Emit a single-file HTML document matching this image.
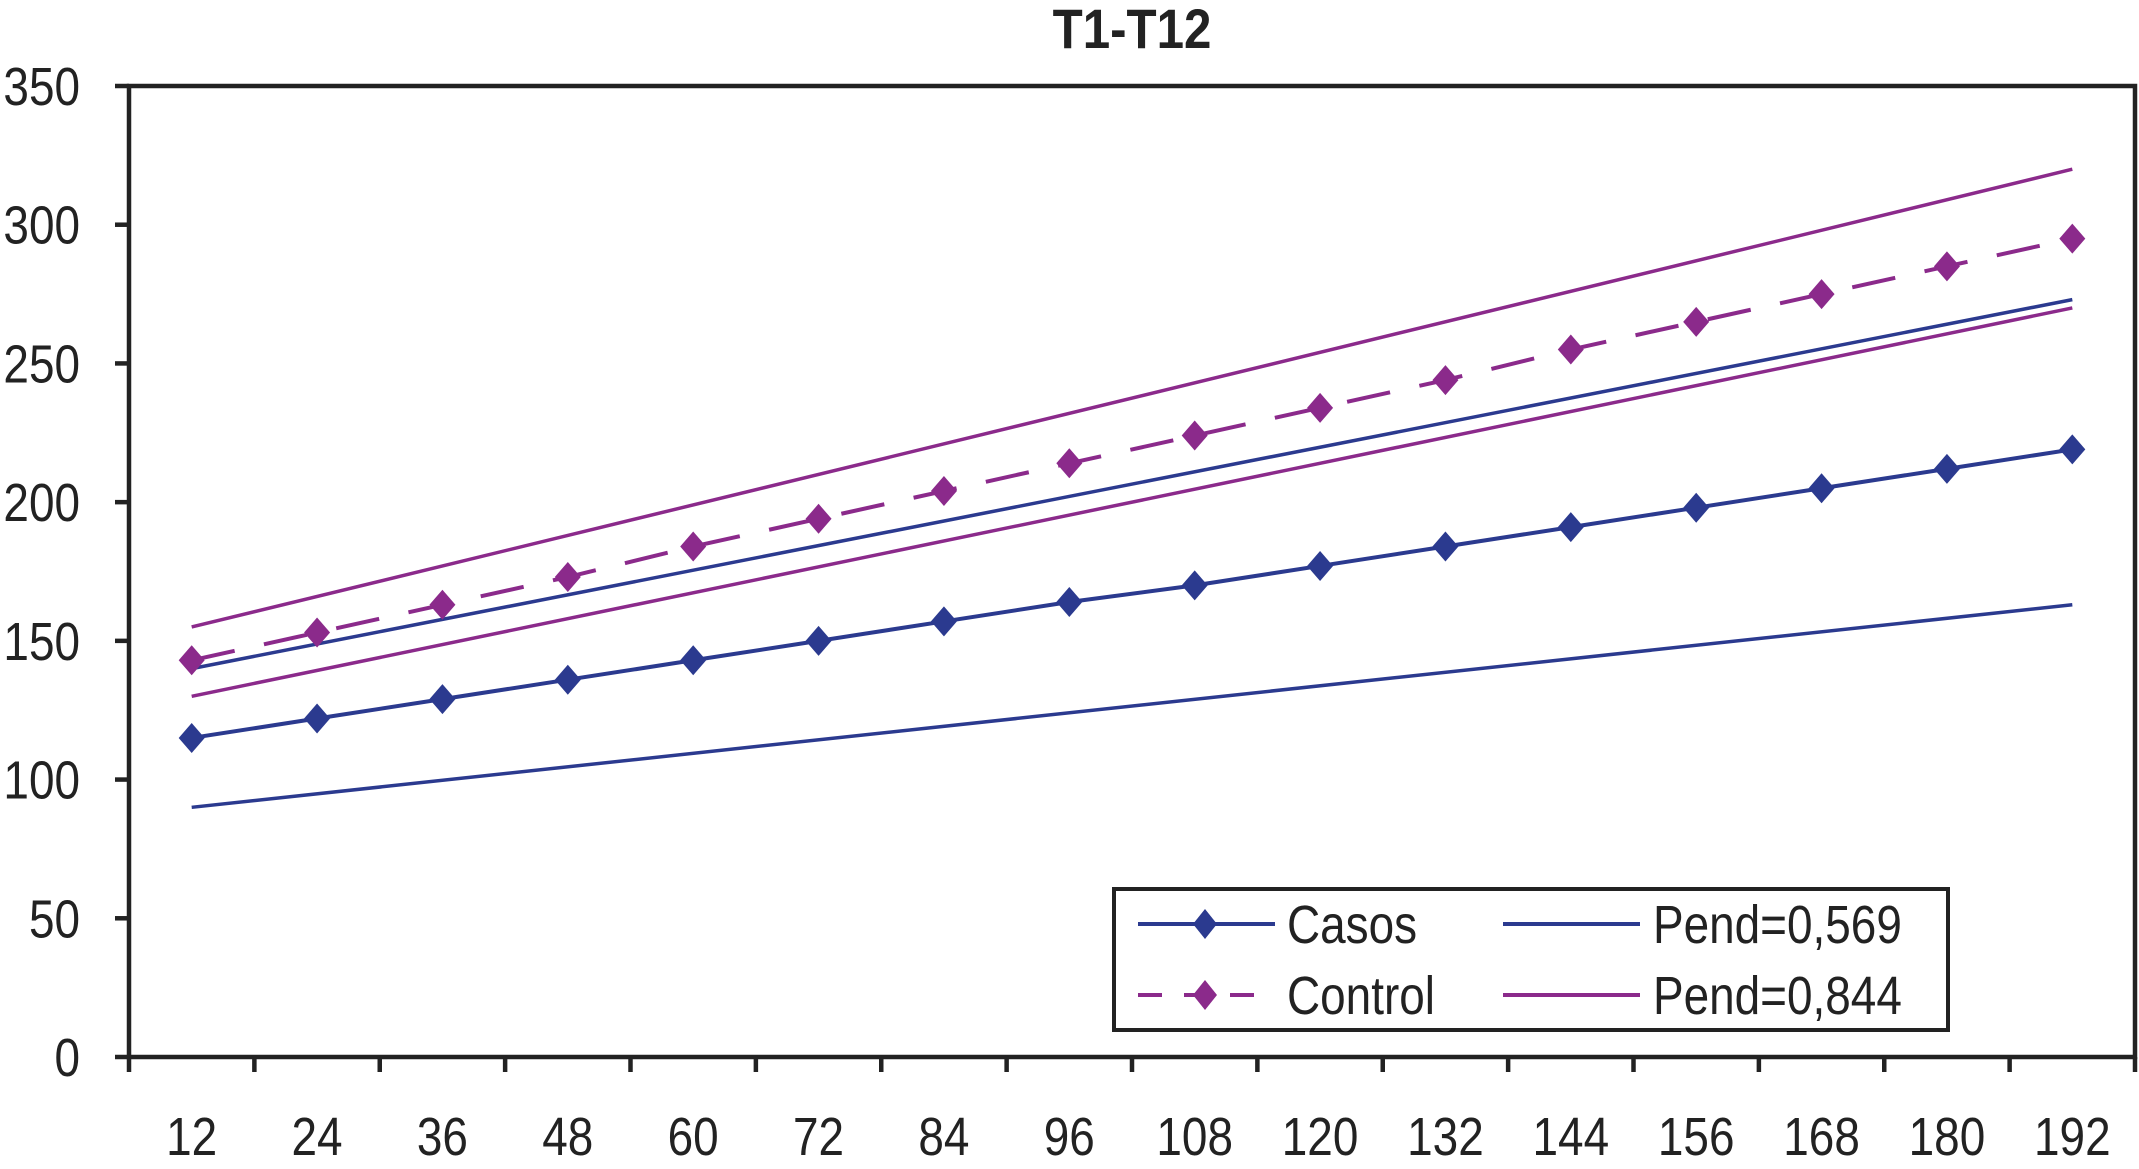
<!DOCTYPE html>
<html><head><meta charset="utf-8"><style>
body{margin:0;background:#fff}
svg text{font-family:"Liberation Sans",sans-serif;fill:#222}
</style></head><body>
<svg id="chart" width="2139" height="1164" xmlns="http://www.w3.org/2000/svg">
<text transform="translate(1132,48) scale(0.88,1)" font-size="56" font-weight="bold" text-anchor="middle">T1-T12</text>
<g id="axes"></g><g id="marks"></g>
<g>
<rect x="1114" y="889" width="834" height="141" fill="#fff" stroke="#222" stroke-width="4"/>
<g>
<line x1="1138" y1="924" x2="1275" y2="924" stroke="#2b3a8f" stroke-width="4"/>
<path d="M1205 909 L1217 924 L1205 939 L1193 924Z" fill="#2b3a8f"/>
<text transform="translate(1287,943) scale(0.85,1)" font-size="54">Casos</text></g>
<g>
<line x1="1138" y1="995" x2="1275" y2="995" stroke="#8b2a8b" stroke-width="4" stroke-dasharray="24,22"/>
<path d="M1205 980 L1217 995 L1205 1010 L1193 995Z" fill="#8b2a8b"/>
<text transform="translate(1287,1014) scale(0.85,1)" font-size="54">Control</text></g>
<g>
<line x1="1503" y1="924" x2="1640" y2="924" stroke="#2b3a8f" stroke-width="4"/>
<text transform="translate(1653,943) scale(0.85,1)" font-size="54">Pend=0,569</text></g>
<g>
<line x1="1503" y1="995" x2="1640" y2="995" stroke="#8b2a8b" stroke-width="4"/>
<text transform="translate(1653,1014) scale(0.85,1)" font-size="54">Pend=0,844</text></g>
</g>
</svg>
<script>
const categories=[12,24,36,48,60,72,84,96,108,120,132,144,156,168,180,192];
const casos=[115,122,129,136,143,150,157,164,170,177,184,191,198,205,212,219];
const control=[143,153,163,173,184,194,204,214,224,234,244,255,265,275,285,295];
const casosUpper=[140,273];
const casosLower=[90,163];
const controlUpper=[155,320];
const controlLower=[130,270];
const yTicks=[0,50,100,150,200,250,300,350];
const NS='http://www.w3.org/2000/svg';
const L=129,R=2135,T=86,B=1057,ymax=350;
const step=(R-L)/categories.length;
const xs=i=>L+step*(i+0.5);
const ys=v=>B-(v/ymax)*(B-T);
function mk(t,a,p){const e=document.createElementNS(NS,t);for(const k in a)e.setAttribute(k,a[k]);p.appendChild(e);return e;}
const ax=document.getElementById('axes'),mg=document.getElementById('marks');
let e=mk('path',{d:`M${L} ${T} L${R} ${T} L${R} ${B} L${L} ${B} Z`,fill:'none',stroke:'#222','stroke-width':4.5},ax);


yTicks.forEach(v=>{
 const l=mk('line',{x1:L-14,x2:L,y1:ys(v),y2:ys(v),stroke:'#222','stroke-width':4.5},ax);
 
 
 const t=mk('text',{transform:`translate(80,${ys(v)+19}) scale(0.85,1)`,'font-size':54,'text-anchor':'end'},ax);t.textContent=v;
 
 
});
for(let i=0;i<=categories.length;i++){
 const x=L+step*i;
 const l=mk('line',{x1:x,x2:x,y1:B,y2:B+15,stroke:'#222','stroke-width':4.5},ax);
 
 
}
categories.forEach((c,i)=>{
 const t=mk('text',{transform:`translate(${xs(i)},1155) scale(0.85,1)`,'font-size':54,'text-anchor':'middle'},ax);t.textContent=c;
 
 
});
function trend(a,col,name){
 const l=mk('line',{x1:xs(0),y1:ys(a[0]),x2:xs(categories.length-1),y2:ys(a[1]),stroke:col,'stroke-width':3.5},mg);
 
 
}
trend(casosUpper,'#2b3a8f','casos-trend-upper');
trend(casosLower,'#2b3a8f','casos-trend-lower');
trend(controlUpper,'#8b2a8b','control-trend-upper');
trend(controlLower,'#8b2a8b','control-trend-lower');
function series(vals,col,dash,name){
 const p=mk('polyline',{points:vals.map((v,i)=>xs(i)+','+ys(v)).join(' '),fill:'none',stroke:col,'stroke-width':4},mg);
 if(dash)p.setAttribute('stroke-dasharray','44,30');
 
 
 vals.forEach((v,i)=>{
  const x=xs(i),y=ys(v);
  const d=mk('path',{d:`M${x} ${y-15} L${x+13} ${y} L${x} ${y+15} L${x-13} ${y}Z`,fill:col},mg);
  
  
 });
}
series(casos,'#2b3a8f',false,'casos');
series(control,'#8b2a8b',true,'control');
</script>
</body></html>
